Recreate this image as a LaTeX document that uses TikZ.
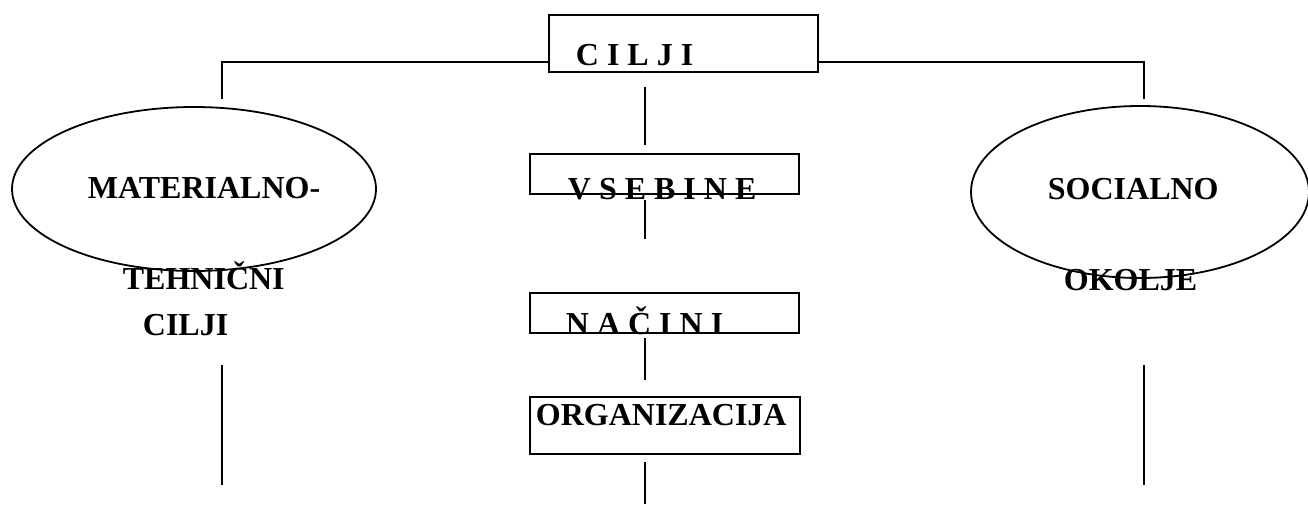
\documentclass[tikz,border=0pt]{standalone}
\usepackage{fontspec}
\setmainfont{Liberation Serif}
\usetikzlibrary{shapes.geometric}

\begin{document}
\begin{tikzpicture}[
    x = 1pt, y = -1pt, % pixel grid, y going down
    line width = 1.8pt, % line style
    box/.style = {draw, rectangle, inner sep = 0pt, anchor = north west},
    oval/.style = {draw, ellipse, inner sep = 0pt},
    txt/.style = {anchor = base west, inner sep = 0pt,
                  font = \fontsize{32}{38}\selectfont\bfseries}
    ]
    \useasboundingbox (0,0) rectangle (1308,504);

    % boxes down the middle
    \node[box, minimum width = 269pt, minimum height = 57pt] (cilji) at (548,14) {};
    \node[box, minimum width = 269pt, minimum height = 40pt] (vsebine) at (529,153) {};
    \node[box, minimum width = 269pt, minimum height = 40pt] (nacini) at (529,292) {};
    \node[box, minimum width = 270pt, minimum height = 57pt] (org) at (529,396) {};

    % the two ovals
    \node[oval, minimum width = 364pt, minimum height = 164pt] (mat) at (194,189) {};
    \node[oval, minimum width = 338pt, minimum height = 172pt] (soc) at (1140,192) {};

    % texts
    \node[txt] (tcilji) at (575,65) {C I L J I};
    \node[txt] (tvsebine) at (567,199) {V S E B I N E};
    \node[txt] (tnacini) at (565,334) {N A Č I N I};
    \node[txt] (torg) at (535,425) {ORGANIZACIJA};
    \node[txt] (tmat1) at (87,198) {MATERIALNO-};
    \node[txt] (tmat2) at (122,289) {TEHNIČNI};
    \node[txt] (tmat3) at (142,335) {CILJI};
    \node[txt] (tsoc1) at (1047,199) {SOCIALNO};
    \node[txt] (tsoc2) at (1063,290) {OKOLJE};

    % free line ends
    \coordinate (lt) at (222,99);
    \coordinate (rt) at (1144,99);
    \coordinate (c1) at (645,87);
    \coordinate (c2) at (645,145);
    \coordinate (c3) at (645,200);
    \coordinate (c4) at (645,239);
    \coordinate (c5) at (645,338);
    \coordinate (c6) at (645,380);
    \coordinate (c7) at (645,462);
    \coordinate (c8) at (645,504);
    \coordinate (l1) at (222,365);
    \coordinate (l2) at (222,485);
    \coordinate (r1) at (1144,365);
    \coordinate (r2) at (1144,485);

    \draw ([yshift=11pt]cilji.south west) -| (lt);
    \draw ([yshift=11pt]cilji.south east) -| (rt);
    \draw (c1) -- (c2);
    \draw (c3) -- (c4);
    \draw (c5) -- (c6);
    \draw (c7) -- (c8);
    \draw (l1) -- (l2);
    \draw (r1) -- (r2);
\end{tikzpicture}
\end{document}
